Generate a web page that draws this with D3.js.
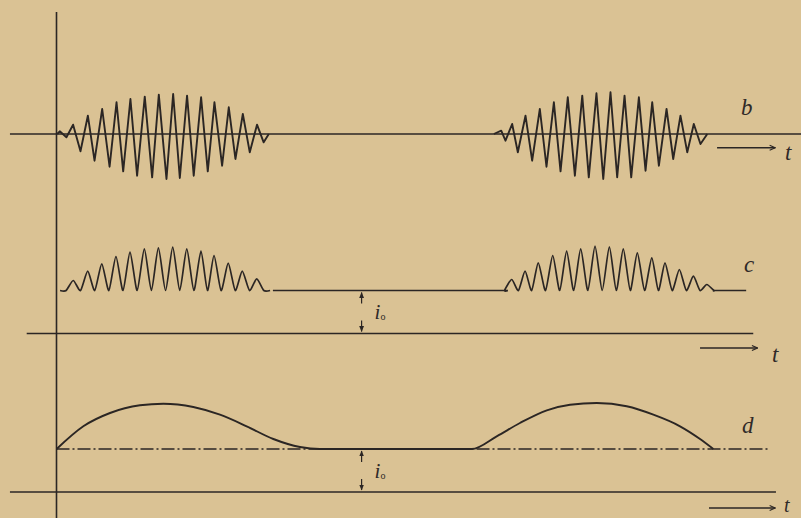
<!DOCTYPE html>
<html>
<head>
<meta charset="utf-8">
<script src="https://cdn.jsdelivr.net/npm/d3@7"></script>
<style>
  html, body { margin: 0; padding: 0; background: #dac294; }
  svg { display: block; }
  text { font-family: "Liberation Serif", "DejaVu Serif", serif; font-style: italic; fill: #2f2a28; }
</style>
</head>
<body>
<svg id="chart" width="801" height="518"></svg>
<script>
// ---------------- DATA ----------------
// time unit: one carrier period; amplitude unit: arbitrary (same for all traces)

// trace b: high-frequency carrier, two bursts (alternating peak / trough values)
const bBurst1T = [0.05, 0.23, 0.70, 1.17, 1.69, 2.21, 2.68, 3.22, 3.74, 4.23, 4.70, 5.21, 5.68, 6.22, 6.74, 7.21, 7.75, 8.22, 8.69, 9.20, 9.67, 10.19, 10.66, 11.13, 11.67, 12.14, 12.61, 13.13, 13.62, 14.13, 14.60, 14.96];
const bBurst1V = [0, 2.7, -3.3, 9.3, -17.3, 18.3, -26.7, 25, -32.7, 31.7, -37.3, 35, -41.7, 37.3, -43.3, 39.3, -45, 40, -44, 38.3, -41.7, 36.7, -37.3, 31.7, -31.7, 26.7, -25, 20, -18.3, 9.3, -8.3, 0];
const bBurst2T = [30.82, 31.34, 31.64, 32.11, 32.51, 33.05, 33.52, 34.06, 34.53, 35.05, 35.52, 36.03, 36.53, 37.05, 37.51, 38.05, 38.53, 39.04, 39.51, 40.03, 40.50, 41.04, 41.51, 41.98, 42.45, 42.99, 43.46, 43.97, 44.45, 44.91, 45.38, 45.86];
const bBurst2V = [0, 3.3, -6.7, 10, -18.3, 18.3, -26.7, 25, -32.7, 31.7, -37.3, 36.7, -41.7, 38.3, -43.3, 40.7, -45, 41.7, -43.3, 38.3, -43.3, 36.7, -36.7, 31.7, -31.7, 25, -25, 18.3, -18.3, 10, -10, 0];

// trace c: rectified current, peak heights above the mean level
const cBurst1T = [1.18, 2.20, 3.19, 4.19, 5.18, 6.19, 7.18, 8.19, 9.18, 10.18, 11.10, 12.10, 13.09, 14.11];
const cBurst1V = [10, 19.3, 26.7, 34, 38.3, 41.7, 42.7, 43.3, 41.7, 39.3, 35, 27.3, 19.3, 11.7];
const cBurst2T = [32.08, 33.02, 33.95, 34.97, 35.95, 36.94, 37.95, 38.96, 39.94, 40.93, 41.95, 42.88, 43.89, 44.88, 45.82];
const cBurst2V = [11, 19.3, 27.7, 35, 39.3, 41.7, 44.3, 43.7, 41.7, 37.7, 32.7, 27.7, 21, 14.3, 6];
const cStartEnd = [[0.25, 15.05], [31.80, 46.26]];
const cEndT = 48.6;

// trace d: envelope (detected current)
const dEnvT = [0.01, 1.89, 3.77, 5.88, 7.53, 9.64, 11.52, 13.40, 15.28, 17.16, 18.57, 29.26, 31.02, 32.66, 34.55, 36.19, 38.07, 40.18, 42.06, 43.94, 45.35, 46.29];
const dEnvV = [0, 22.7, 36, 43.7, 45.3, 42, 34.3, 22.7, 10, 2, 0, 0, 12.7, 26, 38.7, 44.3, 46, 42.7, 34.3, 22.7, 10, 0];

// steady (mean) current i0 between the zero line and the signal level
const i0 = 43;
const i0MarkT = 21.5;

// axis extents (time units) of the drawn lines
const bLineT = [-3.28, 52.5];
const cZeroT = [-2.1, 49.1];
const dMeanT = [0, 50.15];
const dZeroT = [-3.28, 50.7];

// labels
const traceLabels = ["b", "c", "d"];
const timeLabel = "t";
const i0Label = "i";
const i0Sub = "o";

// ---------------- LAYOUT ----------------
const W = 801, H = 518;
const ink = "#2b2624";
const svg = d3.select("#chart");
svg.append("rect").attr("width", W).attr("height", H).attr("fill", "#dac294");

const x = d3.scaleLinear().domain([0, 52.5]).range([56.5, 801.5]);
function ampScale(base) {
  return d3.scaleLinear().domain([-50, 50]).range([base + 50, base - 50]);
}
const yB = ampScale(134);
const yC = ampScale(290.5);
const yD = ampScale(449);

// markers
const defs = svg.append("defs");
defs.append("marker").attr("id", "arr").attr("viewBox", "0 0 10 10")
  .attr("refX", 9).attr("refY", 5).attr("markerWidth", 7).attr("markerHeight", 7)
  .attr("orient", "auto").attr("markerUnits", "userSpaceOnUse")
  .append("path").attr("d", "M1,1.5 L9,5 L1,8.5").attr("fill", "none").attr("stroke", ink).attr("stroke-width", 1.6);
defs.append("marker").attr("id", "arrs").attr("viewBox", "0 0 10 10")
  .attr("refX", 9).attr("refY", 5).attr("markerWidth", 6).attr("markerHeight", 6)
  .attr("orient", "auto").attr("markerUnits", "userSpaceOnUse")
  .append("path").attr("d", "M0,1 L10,5 L0,9 Z").attr("fill", ink);

function hline(t0, t1, ys, v, opts = {}) {
  return svg.append("line")
    .attr("x1", x(t0)).attr("x2", x(t1))
    .attr("y1", ys(v)).attr("y2", ys(v))
    .attr("stroke", ink).attr("stroke-width", opts.w || 1.5)
    .attr("stroke-dasharray", opts.dash || null);
}

// vertical axis
svg.append("line").attr("x1", x(0)).attr("x2", x(0)).attr("y1", 12).attr("y2", H)
  .attr("stroke", ink).attr("stroke-width", 1.6);

// ----- trace b -----
hline(bLineT[0], bLineT[1], yB, 0, { w: 1.5 });
const lineB = d3.line().x(d => x(d[0])).y(d => yB(d[1])).curve(d3.curveLinear);
[[bBurst1T, bBurst1V], [bBurst2T, bBurst2V]].forEach(([T, V]) => {
  svg.append("path").datum(T.map((t, i) => [t, V[i]]))
    .attr("d", lineB).attr("fill", "none").attr("stroke", ink)
    .attr("stroke-width", 1.9).attr("stroke-linejoin", "round");
});

// ----- trace c -----
// peaks, with the current returning to the mean level between them
function rectified(T, V, se) {
  const pts = [[se[0], 0]];
  const half = 0.5;
  pts.push([T[0] - half, 0]);
  for (let i = 0; i < T.length; i++) {
    pts.push([T[i], V[i]]);
    const m = i < T.length - 1 ? (T[i] + T[i + 1]) / 2 : T[i] + half;
    pts.push([m, 0]);
  }
  pts.push([se[1], 0]);
  return pts;
}
const lineC = d3.line().x(d => x(d[0])).y(d => yC(d[1])).curve(d3.curveCardinal.tension(0.35));
const c1 = rectified(cBurst1T, cBurst1V, cStartEnd[0]);
const c2 = rectified(cBurst2T, cBurst2V, cStartEnd[1]);
[c1, c2].forEach(c => {
  svg.append("path").datum(c).attr("d", lineC).attr("fill", "none").attr("stroke", ink)
    .attr("stroke-width", 1.7).attr("stroke-linejoin", "round");
});
hline(cStartEnd[0][1] + 0.2, cStartEnd[1][0], yC, 0, { w: 1.6 });
hline(cStartEnd[1][1], cEndT, yC, 0, { w: 1.6 });
hline(cZeroT[0], cZeroT[1], yC, -i0, { w: 1.5 });

// ----- trace d -----
hline(dMeanT[0], dMeanT[1], yD, 0, { w: 1.4, dash: "13,3,2,3" });
const lineD = d3.line().x(d => x(d[0])).y(d => yD(d[1])).curve(d3.curveMonotoneX);
svg.append("path").datum(dEnvT.map((t, i) => [t, dEnvV[i]]))
  .attr("d", lineD).attr("fill", "none").attr("stroke", ink).attr("stroke-width", 1.9);
hline(dZeroT[0], dZeroT[1], yD, -i0, { w: 1.5 });

// ----- i0 dimension marks -----
[yC, yD].forEach(ys => {
  const xm = x(i0MarkT);
  const top = ys(0), bot = ys(-i0);
  svg.append("line").attr("x1", xm).attr("x2", xm).attr("y1", top + 13).attr("y2", top + 2)
    .attr("stroke", ink).attr("stroke-width", 1.2).attr("marker-end", "url(#arrs)");
  svg.append("line").attr("x1", xm).attr("x2", xm).attr("y1", bot - 13).attr("y2", bot - 2)
    .attr("stroke", ink).attr("stroke-width", 1.2).attr("marker-end", "url(#arrs)");
  const t = svg.append("text").attr("x", xm + 13).attr("y", (top + bot) / 2 + 7)
    .attr("font-size", 21);
  t.append("tspan").text(i0Label);
  t.append("tspan").text(i0Sub).attr("font-size", 10).attr("dy", 1).attr("font-style", "normal");
});

// ----- time arrows and labels -----
const timeArrows = [
  { ys: yB, v: -13.7, t0: 46.55, t1: 50.65, lx: 785, ly: 160, fs: 23 },
  { ys: yC, v: -57.5, t0: 45.35, t1: 49.4, lx: 772, ly: 362, fs: 23 },
  { ys: yD, v: -59, t0: 45.98, t1: 50.65, lx: 784, ly: 512, fs: 20 }
];
timeArrows.forEach(a => {
  svg.append("line").attr("x1", x(a.t0)).attr("x2", x(a.t1))
    .attr("y1", a.ys(a.v)).attr("y2", a.ys(a.v))
    .attr("stroke", ink).attr("stroke-width", 1.4).attr("marker-end", "url(#arr)");
  svg.append("text").attr("x", a.lx).attr("y", a.ly).attr("font-size", a.fs).text(timeLabel);
});

// trace letters
const letterPos = [[741, 115], [744, 272], [742, 433]];
traceLabels.forEach((s, i) => {
  svg.append("text").attr("x", letterPos[i][0]).attr("y", letterPos[i][1])
    .attr("font-size", 23).text(s);
});
</script>
</body>
</html>
